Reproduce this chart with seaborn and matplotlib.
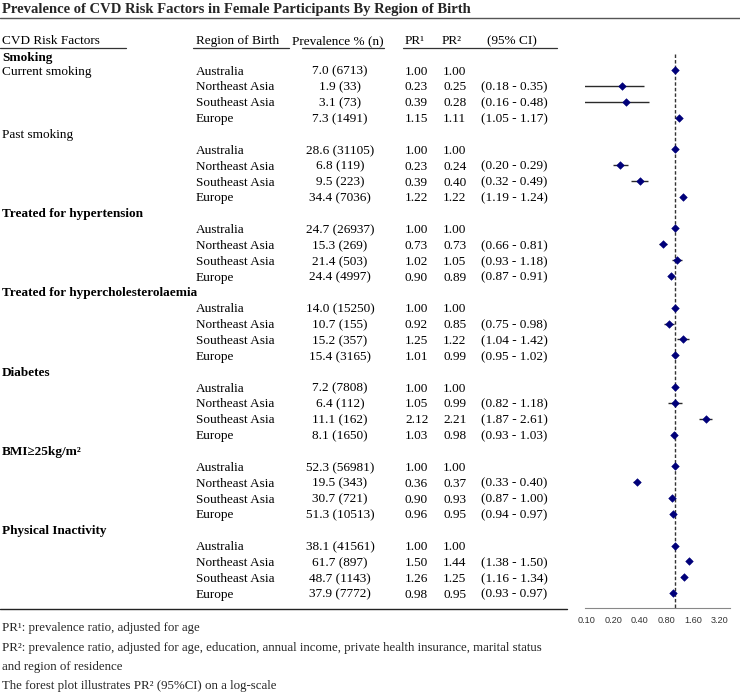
import numpy as np
import pandas as pd
import matplotlib
matplotlib.use("Agg")
import matplotlib.pyplot as plt
import seaborn as sns
from matplotlib.lines import Line2D
from matplotlib.transforms import blended_transform_factory

# ---------------- data ----------------
factors = ["Current smoking", "Past smoking", "Treated for hypertension",
           "Treated for hypercholesterolaemia", "Diabetes", "BMI\u226525kg/m\u00b2",
           "Physical Inactivity"]
factor_bold = [False, False, True, True, True, True, True]
group_header = "Smoking"
regions = ["Australia", "Northeast Asia", "Southeast Asia", "Europe"]

prev_pct = [[7.0, 1.9, 3.1, 7.3], [28.6, 6.8, 9.5, 34.4], [24.7, 15.3, 21.4, 24.4],
            [14.0, 10.7, 15.2, 15.4], [7.2, 6.4, 11.1, 8.1], [52.3, 19.5, 30.7, 51.3],
            [38.1, 61.7, 48.7, 37.9]]
prev_n = [[6713, 33, 73, 1491], [31105, 119, 223, 7036], [26937, 269, 503, 4997],
          [15250, 155, 357, 3165], [7808, 112, 162, 1650], [56981, 343, 721, 10513],
          [41561, 897, 1143, 7772]]
pr1 = [[1.00, 0.23, 0.39, 1.15], [1.00, 0.23, 0.39, 1.22], [1.00, 0.73, 1.02, 0.90],
       [1.00, 0.92, 1.25, 1.01], [1.00, 1.05, 2.12, 1.03], [1.00, 0.36, 0.90, 0.96],
       [1.00, 1.50, 1.26, 0.98]]
pr2 = [[1.00, 0.25, 0.28, 1.11], [1.00, 0.24, 0.40, 1.22], [1.00, 0.73, 1.05, 0.89],
       [1.00, 0.85, 1.22, 0.99], [1.00, 0.99, 2.21, 0.98], [1.00, 0.37, 0.93, 0.95],
       [1.00, 1.44, 1.25, 0.95]]
ci_lo = [[None, 0.18, 0.16, 1.05], [None, 0.20, 0.32, 1.19], [None, 0.66, 0.93, 0.87],
         [None, 0.75, 1.04, 0.95], [None, 0.82, 1.87, 0.93], [None, 0.33, 0.87, 0.94],
         [None, 1.38, 1.16, 0.93]]
ci_hi = [[None, 0.35, 0.48, 1.17], [None, 0.29, 0.49, 1.24], [None, 0.81, 1.18, 0.91],
         [None, 0.98, 1.42, 1.02], [None, 1.18, 2.61, 1.03], [None, 0.40, 1.00, 0.97],
         [None, 1.50, 1.34, 0.97]]
# CI whiskers as drawn in the forest plot
plot_lo = [[1.00, 0.09, 0.09, 1.05], [1.00, 0.20, 0.32, 1.19], [1.00, 0.66, 0.93, 0.87],
           [1.00, 0.75, 1.04, 0.95], [1.00, 0.82, 1.87, 0.93], [1.00, 0.33, 0.87, 0.94],
           [1.00, 1.38, 1.16, 0.93]]
plot_hi = [[1.00, 0.45, 0.50, 1.17], [1.00, 0.29, 0.49, 1.24], [1.00, 0.81, 1.18, 0.91],
           [1.00, 0.98, 1.42, 1.02], [1.00, 1.18, 2.61, 1.03], [1.00, 0.40, 1.00, 0.97],
           [1.00, 1.50, 1.34, 0.97]]
xticks = [0.10, 0.20, 0.40, 0.80, 1.60, 3.20]
xtick_labels = ["0.10", "0.20", "0.40", "0.80", "1.60", "3.20"]

title = "Prevalence of CVD Risk Factors in Female Participants By Region of Birth"
footnotes = ["PR\u00b9: prevalence ratio, adjusted for age",
             "PR\u00b2: prevalence ratio, adjusted for age, education, annual income, private health insurance, marital status",
             "and region of residence",
             "The forest plot illustrates PR\u00b2 (95%CI) on a log-scale"]

# ---------------- table frame ----------------
recs = []
for f in range(len(factors)):
    base = 0 if f == 0 else 5 * f
    for r in range(4):
        recs.append(dict(factor=f, region=regions[r], row=base + r,
                         pct=prev_pct[f][r], n=prev_n[f][r], pr1=pr1[f][r], pr2=pr2[f][r],
                         lo=ci_lo[f][r], hi=ci_hi[f][r], plo=plot_lo[f][r], phi=plot_hi[f][r]))
df = pd.DataFrame(recs)

sns.set_style("white")
plt.rcParams["font.family"] = ["Liberation Serif", "DejaVu Serif"]

W, H = 740, 693
fig = plt.figure(figsize=(W / 100, H / 100), dpi=100)

def fx(px):
    return px / W

def fy(py):
    return 1 - py / H

row0, dy = 70.0, 15.85
ax_top_px, ax_bot_px = 40.0, 608.0
ax = fig.add_axes([fx(585), fy(ax_bot_px), fx(730) - fx(585), (ax_bot_px - ax_top_px) / H])
ax.set_ylim((ax_bot_px - row0) / dy, (ax_top_px - row0) / dy)

# forest plot
ax.set_xscale("log")
ax.set_xlim(0.096, 4.15)
ax.hlines(df["row"], df["plo"], df["phi"], color="#2a2a2a", lw=1.0, zorder=2)
ax.vlines(1.0, -1.0, (ax_bot_px - row0) / dy, color="#333333", lw=1.0,
          linestyles=(0, (2.5, 1.5)), zorder=1)
sns.scatterplot(data=df, x="pr2", y="row", marker="D", s=15, color="#00007a",
                edgecolor="#00007a", linewidth=0.4, ax=ax, zorder=3, legend=False)
ax.set_xticks(xticks)
ax.set_xticklabels(xtick_labels, family="Liberation Sans", fontsize=6.6, color="#333333")
ax.minorticks_off()
ax.tick_params(axis="x", direction="out", length=3.5, width=0.6, color="#888888", pad=2.5)
ax.set_yticks([])
ax.set_xlabel("")
ax.set_ylabel("")
for s in ["left", "top", "right"]:
    ax.spines[s].set_visible(False)
ax.spines["bottom"].set_color("#888888")
ax.spines["bottom"].set_linewidth(0.8)
ax.patch.set_alpha(0)

tr = blended_transform_factory(fig.transFigure, ax.transData)
fs = 9.5

def T(px, row, s, ha="left", bold=False, size=fs):
    fig.text(fx(px), row + 0.1, s, transform=tr, ha=ha, va="center", fontsize=size,
             fontweight="bold" if bold else "normal", color="black")

# title
fig.text(fx(2), fy(9), title, ha="left", va="center", fontsize=10.5, fontweight="bold")
fig.add_artist(Line2D([0, 1], [fy(17.5)] * 2, color="#555555", lw=1.0, transform=fig.transFigure))

# column headers
hrow = -1.9
T(2, hrow, "CVD Risk Factors")
T(196, hrow, "Region of Birth")
T(292, hrow, "Prevalence % (n)")
T(405, hrow, "PR\u00b9")
T(442, hrow, "PR\u00b2")
T(487, hrow, "(95% CI)")
uy = fy(48)
for x0, x1 in [(0, 126), (193, 289), (302, 384), (403, 557)]:
    fig.add_artist(Line2D([fx(x0), fx(x1)], [uy, uy], color="#333333", lw=0.9,
                          transform=fig.transFigure))

# group / factor labels
T(2, -0.85, group_header, bold=True)
for f, name in enumerate(factors):
    r = 0 if f == 0 else 5 * f - 1
    T(2, r, name, bold=factor_bold[f])

# rows
for _, d in df.iterrows():
    T(196, d["row"], d["region"])
    T(340, d["row"], f"{d['pct']:.1f} ({int(d['n'])})", ha="center")
    T(405, d["row"], f"{d['pr1']:.2f}")
    T(443, d["row"], f"{d['pr2']:.2f}")
    if pd.notna(d["lo"]):
        T(481, d["row"], f"({d['lo']:.2f} - {d['hi']:.2f})")

# bottom rule
fig.add_artist(Line2D([0, fx(567)], [fy(608.5)] * 2, color="#222222", lw=1.0,
                      transform=fig.transFigure))

# footnotes
for y, s in zip([628, 648, 667, 686], footnotes):
    fig.text(fx(2), fy(y), s, ha="left", va="center", fontsize=9.3)

fig.savefig("out.png", dpi=100)
